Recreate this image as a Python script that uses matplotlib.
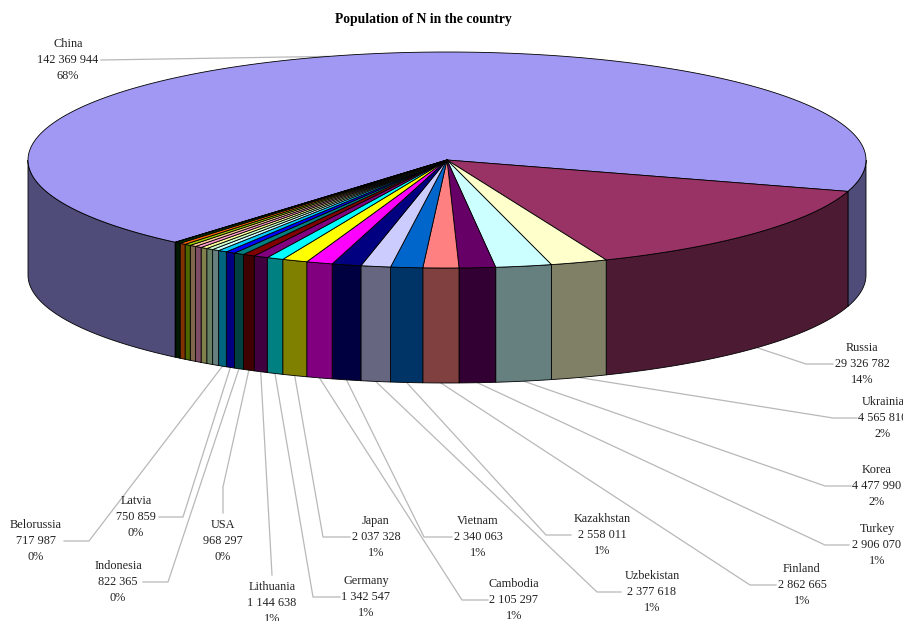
import numpy as np
import matplotlib
matplotlib.use('Agg')
import matplotlib.pyplot as plt
from matplotlib.patches import Polygon
from matplotlib.colors import to_rgb

plt.rcParams['font.family'] = ['Liberation Serif', 'DejaVu Serif']

# ----- data, largest first, clockwise from the China/Russia edge order -----
names = ['China', 'Russia', 'Ukrainia', 'Korea', 'Turkey', 'Finland', 'Kazakhstan',
         'Uzbekistan', 'Vietnam', 'Cambodia', 'Japan', 'Germany', 'Lithuania', 'USA',
         'Indonesia', 'Latvia', 'Belorussia']
values = [142369944, 29326782, 4565810, 4477990, 2906070, 2862665, 2558011,
          2377618, 2340063, 2105297, 2037328, 1342547, 1144638, 968297,
          822365, 750859, 717987]
# small unlabelled slices, estimated from the width of their walls
other_values = [570000, 560000, 550000, 540000, 530000, 520000, 510000, 450000, 50000]

colors = ['#A098F2', '#993366', '#FFFFCC', '#CCFFFF', '#660066', '#FF8080', '#0066CC',
          '#CCCCFF', '#000080', '#FF00FF', '#FFFF00', '#00FFFF', '#800080', '#800000',
          '#008080', '#0000FF', '#00CCFF']
other_colors = ['#CCFFFF', '#CCFFCC', '#FFFF99', '#FF99CC', '#FFCC99', '#99CC00',
                '#FF6600', '#003300', '#000000']

# label centre x, y of the middle text line, then leader points from text to elbow
label_x = [68, 862, 883, 877, 877, 802, 602, 652, 478, 514, 376, 366, 272, 223, 118, 136, 36]
label_y = [60, 364, 418, 486, 545, 585, 535, 592, 537, 600, 537, 597, 603, 541, 582, 517, 541]
leaders = [[(101, 60)],
           [(833, 364), (806, 364)],
           [(857, 418), (833, 418)],
           [(851, 486), (825, 486)],
           [(849, 545), (825, 545)],
           [(776, 585), (750, 585)],
           [(571, 535), (546, 535)],
           [(621, 592), (597, 592)],
           [(452, 537), (424, 537)],
           [(488, 600), (462, 600)],
           [(350, 537), (323, 537)],
           [(340, 597), (313, 597)],
           [(272, 575)],
           [(223, 513), (223, 487)],
           [(143, 582), (168, 582)],
           [(159, 517), (183, 517)],
           [(64, 541), (89, 541)]]

# pie geometry in pixels
cx, cy = 447, 160
rx, ry = 419, 108
depth = 115
start = 16.9 - 360 * values[0] / (sum(values) + sum(other_values))  # where China begins


def rim(theta, drop=0):
    t = np.radians(theta)
    return cx + rx * np.cos(t), cy + ry * np.sin(t) + drop


def group(v):
    return f'{v:,}'.replace(',', ' ')


all_values = np.array(values + other_values, dtype=float)
all_colors = colors + other_colors
total = all_values.sum()
angles = start + np.concatenate([[0], np.cumsum(all_values)]) / total * 360

fig = plt.figure(figsize=(9.04, 6.21), dpi=100)
ax = fig.add_axes([0, 0, 1, 1])
ax.set_xlim(0, 904)
ax.set_ylim(621, 0)
ax.axis('off')

# walls, only the part of the rim that faces the viewer
for i, col in enumerate(all_colors):
    a0, a1 = angles[i], angles[i + 1]
    dark = tuple(c * 0.5 for c in to_rgb(col))
    for shift in (0, 360, -360):
        lo, hi = max(a0 + shift, 0), min(a1 + shift, 180)
        if hi <= lo:
            continue
        th = np.linspace(lo, hi, 80)
        top = [rim(t) for t in th]
        bottom = [rim(t, depth) for t in th[::-1]]
        ax.add_patch(Polygon(top + bottom, closed=True, facecolor=dark, edgecolor='black',
                             lw=0.6, zorder=3))

# top face
for i, col in enumerate(all_colors):
    th = np.linspace(angles[i], angles[i + 1], 200)
    pts = [(cx, cy)] + [rim(t) for t in th]
    ax.add_patch(Polygon(pts, closed=True, facecolor=col, edgecolor='black',
                         lw=0.6, joinstyle='round', zorder=4))

# leader lines and labels
for i, name in enumerate(names):
    mid = (angles[i] + angles[i + 1]) / 2
    # China's label points at the back of the rim, the others at the wall bottom
    anchor = rim(mid) if i == 0 else rim(mid, depth)
    pts = leaders[i] + [anchor]
    ax.plot([p[0] for p in pts], [p[1] for p in pts], color='#b8b8b8', lw=0.9, zorder=2)
    pct = f'{values[i] / total * 100:.0f}%'
    for text, dy in zip([name, group(values[i]), pct], [-16.3, 0, 16.3]):
        ax.text(label_x[i], label_y[i] + dy, text, ha='center', va='center',
                fontsize=8.8, color='#222222', zorder=5)

ax.text(423, 19, 'Population of N in the country', ha='center', va='center',
        fontsize=9.8, fontweight='bold', color='black')

fig.savefig('out.png', dpi=100)
